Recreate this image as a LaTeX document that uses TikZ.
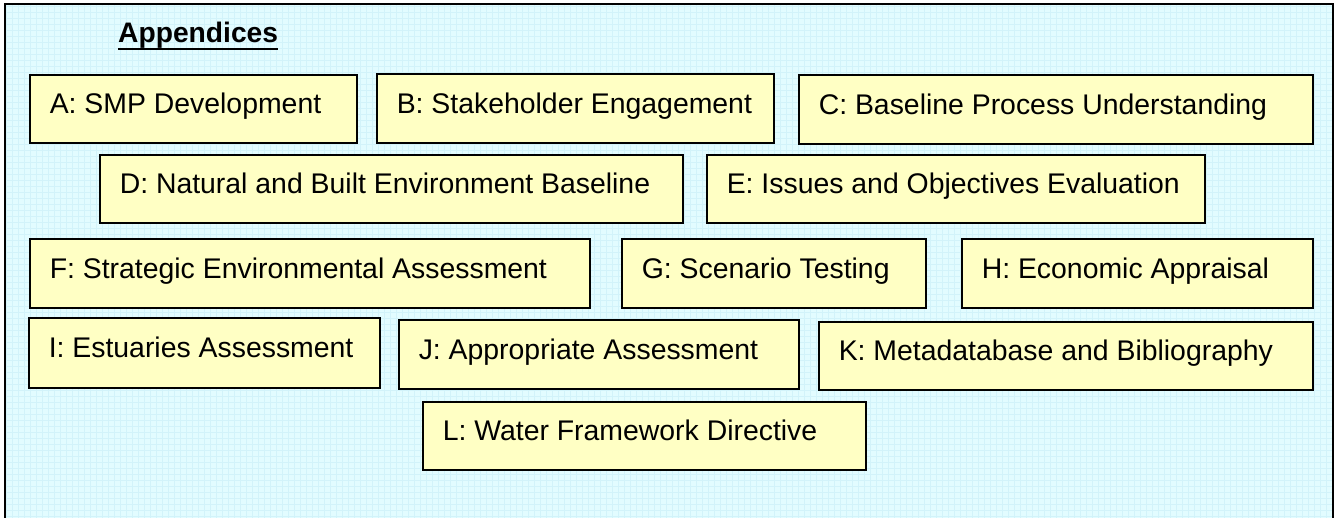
\documentclass[tikz,border=0pt]{standalone}
\usepackage{fontspec}
\setmainfont{Liberation Sans}
\usepackage{tikz}

\definecolor{panelcyan}{HTML}{E2FCFF}
\definecolor{gridcyan}{HTML}{D2F3FA}
\definecolor{boxyellow}{HTML}{FFFFC4}

\begin{document}
\begin{tikzpicture}[%
          x=1pt, y=-1pt,
          apx/.style={draw, line width=1.5pt, fill=boxyellow, anchor=north west,
                      inner xsep=20pt, inner ysep=0pt, align=flush left,
                      text height=21pt, text depth=10.7pt,
                      font=\fontsize{28.4}{34}\selectfont}]

  \useasboundingbox (0,0) rectangle (1335,517);
  \clip (0,0) rectangle (1335,517);

  % panel
  \fill[panelcyan] (5,4) rectangle (1333,520);
  \draw[gridcyan, line width=0.5pt, step=6pt] (5,4) grid (1333,520);
  \draw[line width=2pt] (5,4) rectangle (1333,520);

  \node[font=\bfseries\fontsize{28.2}{34}\selectfont, anchor=base west, inner sep=0pt] (title) at (118,42) {Appendices};
  \draw[line width=2.5pt] ([yshift=-7pt]title.base west) -- ([yshift=-7pt]title.base east);

  \node[apx, text width=287pt, minimum height=68pt] (smp) at (29,74) {\mbox{A: SMP Development}};
  \node[apx, text width=357pt, minimum height=69pt] (stake) at (376,73) {\mbox{B: Stakeholder Engagement}};
  \node[apx, text width=474pt, minimum height=69pt] (process) at (798,74) {\mbox{C: Baseline Process Understanding}};

  \node[apx, text width=543pt, minimum height=68pt] (natural) at (99,154) {\mbox{D: Natural and Built Environment Baseline}};
  \node[apx, text width=458pt, minimum height=68pt] (issues) at (706,154) {\mbox{E: Issues and Objectives Evaluation}};

  \node[apx, text width=520pt, minimum height=69pt] (sea) at (29,238) {\mbox{F: Strategic Environmental Assessment}};
  \node[apx, text width=264pt, minimum height=69pt] (scenario) at (621,238) {\mbox{G: Scenario Testing}};
  \node[apx, text width=311pt, minimum height=69pt] (econ) at (961,238) {\mbox{H: Economic Appraisal}};

  \node[apx, text width=311pt, minimum height=70pt] (estuary) at (28,317) {\mbox{I: Estuaries Assessment}};
  \node[apx, text width=360pt, minimum height=69pt] (approp) at (398,319) {\mbox{J: Appropriate Assessment}};
  \node[apx, text width=454pt, minimum height=68pt] (meta) at (818,321) {\mbox{K: Metadatabase and Bibliography}};

  \node[apx, text width=403pt, minimum height=68pt] (wfd) at (422,401) {\mbox{L: Water Framework Directive}};

\end{tikzpicture}
\end{document}
